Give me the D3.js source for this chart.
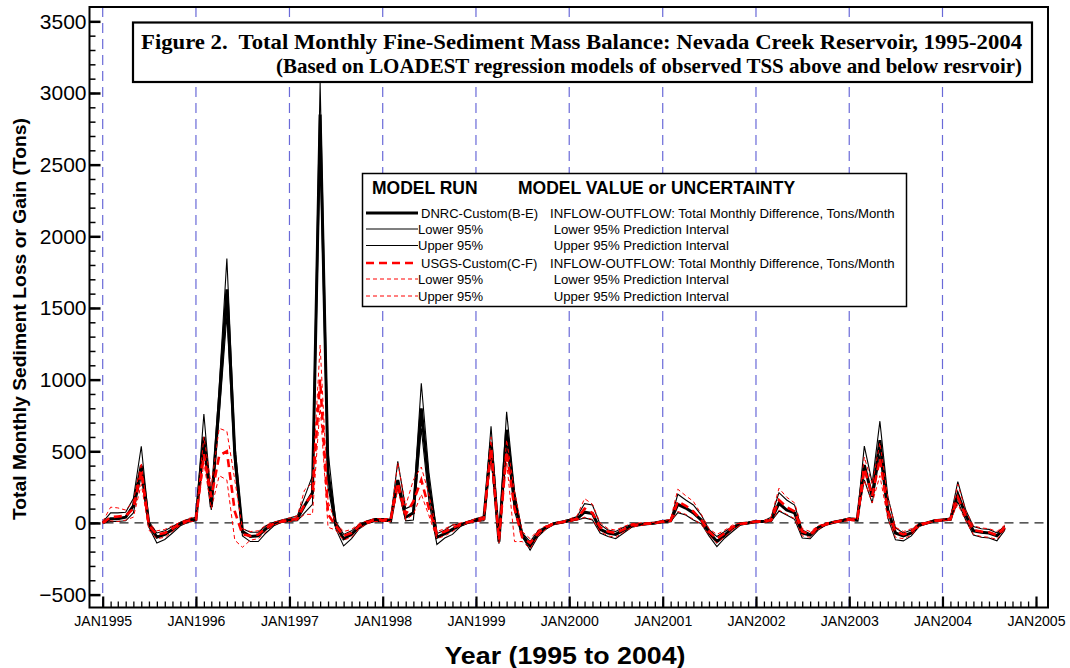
<!DOCTYPE html>
<html><head><meta charset="utf-8">
<script src="https://cdn.jsdelivr.net/npm/d3@7"></script>
<style>html,body{margin:0;padding:0;background:#fff;}svg{display:block;} text{white-space:pre;}</style>
</head><body>
<svg id="chart" width="1070" height="668"></svg>
<script>
// ---- DATA (monthly, starting JAN 1995) ----
const startYear = 1995;
const dnrc = [0,30,30,40,120,400,-10,-100,-80,-45,-5,15, 25,600,110,850,1630,480,-60,-95,-90,-40,-5,10, 20,30,120,210,2850,350,-15,-110,-80,-25,5,20, 20,15,300,40,70,800,250,-100,-75,-45,-15,5, 20,30,560,-130,650,150,-85,-160,-75,-35,-5,5, 15,30,75,65,-45,-70,-80,-50,-20,-10,-5,0, 10,15,130,104,70,20,-65,-130,-85,-35,-5,0, 10,10,20,137,90,70,-70,-85,-35,-10,5,15, 25,20,404,183,578,90,-70,-90,-70,-15,0,15, 20,25,200,55,-55,-65,-70,-90,-35];
const dnrcUpper = [5,70,70,75,170,535,10,-70,-55,-25,5,25, 40,760,160,950,1845,560,-40,-65,-65,-20,5,20, 35,50,180,330,3070,500,10,-80,-55,-10,15,30, 30,25,430,100,125,975,350,-75,-50,-15,-5,10, 30,45,675,-90,775,220,-70,-130,-55,-25,0,10, 25,45,135,125,-10,-50,-60,-30,-10,-5,0,5, 15,20,200,160,125,55,-45,-95,-60,-25,0,5, 15,15,40,211,160,125,-50,-75,-25,-5,10,20, 35,30,536,278,710,183,-35,-70,-50,-5,5,20, 25,35,288,90,-25,-40,-45,-70,-20];
const dnrcLower = [0,10,10,15,70,330,-30,-140,-115,-70,-20,5, 15,510,90,750,1450,400,-90,-130,-130,-70,-20,5, 10,15,70,130,2600,250,-40,-160,-110,-40,-5,10, 10,10,250,15,20,660,150,-150,-105,-80,-25,0, 10,15,460,-145,545,80,-95,-190,-95,-45,-10,0, 10,20,35,20,-70,-95,-110,-70,-30,-20,-10,-5, 5,10,72,55,20,-5,-90,-165,-105,-60,-15,-5, 5,5,10,83,55,25,-105,-110,-50,-15,0,10, 20,15,300,139,474,35,-118,-125,-90,-25,-5,10, 15,20,148,20,-85,-100,-105,-125,-50];
const usgs = [0,40,45,50,100,360,-20,-80,-70,-40,-5,15, 25,480,180,470,500,80,-80,-90,-80,-35,-5,10, 20,30,130,200,1000,60,-20,-90,-70,-20,5,20, 20,20,280,60,150,300,100,-80,-60,-35,-10,5, 20,30,520,-120,500,100,-100,-140,-70,-30,-5,5, 15,30,100,70,-30,-60,-70,-45,-15,-10,-5,0, 10,15,150,120,80,20,-60,-110,-70,-30,-5,0, 10,10,20,160,110,80,-60,-80,-30,-10,5,15, 25,20,380,190,450,80,-60,-80,-60,-15,0,15, 20,25,180,50,-50,-60,-65,-85,-30];
const usgsUpper = [10,110,105,90,150,420,0,-55,-45,-20,5,30, 45,600,260,660,640,300,-40,-60,-55,-15,5,20, 35,50,230,280,1240,150,0,-60,-45,-5,15,30, 30,30,420,120,300,390,200,-60,-40,-15,0,10, 30,45,600,-80,580,220,-60,-110,-50,-20,0,10, 25,50,170,130,0,-40,-50,-25,-5,0,0,5, 15,25,235,190,150,60,-40,-80,-50,-15,0,5, 15,15,40,242,180,140,-40,-60,-20,0,10,20, 35,30,460,270,560,180,-30,-60,-40,-5,5,20, 25,35,270,85,-20,-35,-40,-60,-15];
const usgsLower = [0,15,10,20,40,270,-50,-110,-100,-60,-15,5, 15,420,100,330,300,-120,-170,-120,-110,-60,-15,5, 10,20,60,60,820,-30,-50,-120,-100,-40,-5,10, 10,10,230,20,60,200,50,-110,-90,-60,-20,0, 10,15,450,-140,430,-130,-130,-180,-90,-45,-10,0, 10,20,40,25,-60,-90,-100,-65,-30,-20,-10,-5, 5,10,80,60,25,-10,-85,-140,-95,-50,-15,-5, 5,5,10,90,60,30,-90,-100,-45,-15,0,10, 15,15,300,140,330,30,-100,-110,-85,-25,-5,10, 15,20,130,15,-80,-95,-100,-115,-45];
const yTickValues = [-500,0,500,1000,1500,2000,2500,3000,3500];
const xTickYears = [1995,1996,1997,1998,1999,2000,2001,2002,2003,2004,2005];
const gridYears = [1995,1996,1997,1998,1999,2000,2001,2002,2003,2004];
const titleLine1 = "Figure 2.  Total Monthly Fine-Sediment Mass Balance: Nevada Creek Reservoir, 1995-2004";
const titleLine2 = "(Based on LOADEST regression models of observed TSS above and below resrvoir)";
const legendRows = [
  {run:"DNRC-Custom(B-E)", desc:"INFLOW-OUTFLOW: Total Monthly Difference, Tons/Month", color:"#000", w:3, dash:null},
  {run:"Lower 95%", desc:" Lower 95% Prediction Interval", color:"#000", w:1.1, dash:null},
  {run:"Upper 95%", desc:" Upper 95% Prediction Interval", color:"#000", w:1.1, dash:null},
  {run:"USGS-Custom(C-F)", desc:"INFLOW-OUTFLOW: Total Monthly Difference, Tons/Month", color:"#ff0000", w:2.6, dash:"8,5"},
  {run:"Lower 95%", desc:" Lower 95% Prediction Interval", color:"#ff0000", w:1, dash:"4,3"},
  {run:"Upper 95%", desc:" Upper 95% Prediction Interval", color:"#ff0000", w:1, dash:"4,3"}
];

// ---- LAYOUT ----
const svg = d3.select("#chart");
const L = 89.5, R = 1048, T = 7, B = 607.5;
const x = d3.scaleTime().domain([new Date(1995,0,1), new Date(2005,0,1)]).range([102.7, 1036]);
const y = d3.scaleLinear().domain([-590, 3600]).range([B, T]);
const dateOf = i => new Date(startYear, i, 1);
const SANS = "Liberation Sans, Arial, sans-serif";

// blue vertical dashed gridlines
svg.append("g").selectAll("line").data(gridYears).join("line")
  .attr("x1", d => x(new Date(d,0,1))).attr("x2", d => x(new Date(d,0,1)))
  .attr("y1", T).attr("y2", B)
  .attr("stroke", "#6a6ad8").attr("stroke-width", 1.2).attr("stroke-dasharray", "10,6");

// zero line
svg.append("line").attr("x1", L).attr("x2", R).attr("y1", y(0)).attr("y2", y(0))
  .attr("stroke", "#222").attr("stroke-width", 1.3).attr("stroke-dasharray", "9,6");

// series
const line = d3.line().x((d,i) => x(dateOf(i))).y(d => y(d));
const series = [
  {data: dnrcLower, color:"#000", w:1.1, dash:null},
  {data: dnrcUpper, color:"#000", w:1.1, dash:null},
  {data: dnrc, color:"#000", w:3, dash:null},
  {data: usgsLower, color:"#ff0000", w:1, dash:"4,3"},
  {data: usgsUpper, color:"#ff0000", w:1, dash:"4,3"},
  {data: usgs, color:"#ff0000", w:2.6, dash:"8,5"}
];
svg.append("g").selectAll("path").data(series).join("path")
  .attr("d", d => line(d.data)).attr("fill", "none")
  .attr("stroke", d => d.color).attr("stroke-width", d => d.w)
  .attr("stroke-dasharray", d => d.dash).attr("stroke-linejoin", "miter");

// axes
const yMinor = d3.range(-500, 3600, 100);
svg.append("g").attr("transform", `translate(${L},0)`)
  .call(d3.axisLeft(y).tickValues(yMinor).tickSize(-6).tickFormat(""))
  .call(g => g.select(".domain").remove())
  .selectAll("line").attr("stroke", "#000").attr("stroke-width", 1.5);
const yAx = svg.append("g").attr("transform", `translate(${L},0)`)
  .call(d3.axisLeft(y).tickValues(yTickValues).tickSizeInner(-11).tickSizeOuter(0).tickPadding(3).tickFormat(d3.format("d")));
yAx.select(".domain").remove();
yAx.selectAll("line").attr("stroke", "#000").attr("stroke-width", 2.5);
yAx.selectAll("text").attr("font-family", SANS).attr("font-size", 21).attr("fill", "#000");

const months = d3.timeMonth.range(new Date(1995,0,1), new Date(2005,0,2));
svg.append("g").attr("transform", `translate(0,${B})`)
  .call(d3.axisBottom(x).tickValues(months).tickSize(-6).tickFormat(""))
  .call(g => g.select(".domain").remove())
  .selectAll("line").attr("stroke", "#000").attr("stroke-width", 1.3);
const xAx = svg.append("g").attr("transform", `translate(0,${B})`)
  .call(d3.axisBottom(x).tickValues(xTickYears.map(yr => new Date(yr,0,1))).tickSizeInner(-11).tickSizeOuter(0).tickPadding(9)
    .tickFormat(d => "JAN" + d.getFullYear()));
xAx.select(".domain").remove();
xAx.selectAll("line").attr("stroke", "#000").attr("stroke-width", 2.2);
xAx.selectAll("text").attr("font-family", SANS).attr("font-size", 14)
  .attr("textLength", 58).attr("lengthAdjust", "spacingAndGlyphs").attr("fill", "#000");

// frame
svg.append("rect").attr("x", L).attr("y", T).attr("width", R - L).attr("height", B - T)
  .attr("fill", "none").attr("stroke", "#000").attr("stroke-width", 2);

// title box
svg.append("rect").attr("x", 133).attr("y", 22.5).attr("width", 899).attr("height", 59.5)
  .attr("fill", "#fff").attr("stroke", "#000").attr("stroke-width", 2.2);
svg.append("text").attr("x", 141).attr("y", 49).text(titleLine1)
  .attr("font-family", "Liberation Serif, Times New Roman, serif").attr("font-weight", "bold").attr("font-size", 21)
  .attr("textLength", 881).attr("lengthAdjust", "spacingAndGlyphs");
svg.append("text").attr("x", 1022).attr("y", 73).attr("text-anchor", "end").text(titleLine2)
  .attr("font-family", "Liberation Serif, Times New Roman, serif").attr("font-weight", "bold").attr("font-size", 21)
  .attr("textLength", 746).attr("lengthAdjust", "spacingAndGlyphs");

// legend
const lg = svg.append("g");
lg.append("rect").attr("x", 362.5).attr("y", 173.5).attr("width", 544).attr("height", 133)
  .attr("fill", "#fff").attr("stroke", "#000").attr("stroke-width", 1.5);
lg.append("text").attr("x", 372).attr("y", 193.5).text("MODEL RUN")
  .attr("font-family", SANS).attr("font-weight", "bold").attr("font-size", 17.5);
lg.append("text").attr("x", 518).attr("y", 193.5).text("MODEL VALUE or UNCERTAINTY")
  .attr("font-family", SANS).attr("font-weight", "bold").attr("font-size", 17.5);
const rowY = [213, 229, 245.5, 263, 279, 296];
legendRows.forEach((r, i) => {
  lg.append("line").attr("x1", 366).attr("x2", 418).attr("y1", rowY[i]).attr("y2", rowY[i])
    .attr("stroke", r.color).attr("stroke-width", r.w).attr("stroke-dasharray", r.dash);
  lg.append("text").attr("x", i === 0 || i === 3 ? 421 : 418).attr("y", rowY[i] + 4.5).text(r.run)
    .attr("font-family", SANS).attr("font-size", 13);
  lg.append("text").attr("x", 550).attr("y", rowY[i] + 4.5).text(r.desc)
    .attr("font-family", SANS).attr("font-size", 13.2);
});

// axis titles
svg.append("text").attr("transform", "translate(26,319) rotate(-90)").attr("text-anchor", "middle")
  .text("Total Monthly Sediment Loss or Gain (Tons)")
  .attr("font-family", SANS).attr("font-weight", "bold").attr("font-size", 19)
  .attr("textLength", 402).attr("lengthAdjust", "spacingAndGlyphs");
svg.append("text").attr("x", 565).attr("y", 664).attr("text-anchor", "middle")
  .text("Year (1995 to 2004)")
  .attr("font-family", SANS).attr("font-weight", "bold").attr("font-size", 24)
  .attr("textLength", 241).attr("lengthAdjust", "spacingAndGlyphs");
</script>
</body></html>
